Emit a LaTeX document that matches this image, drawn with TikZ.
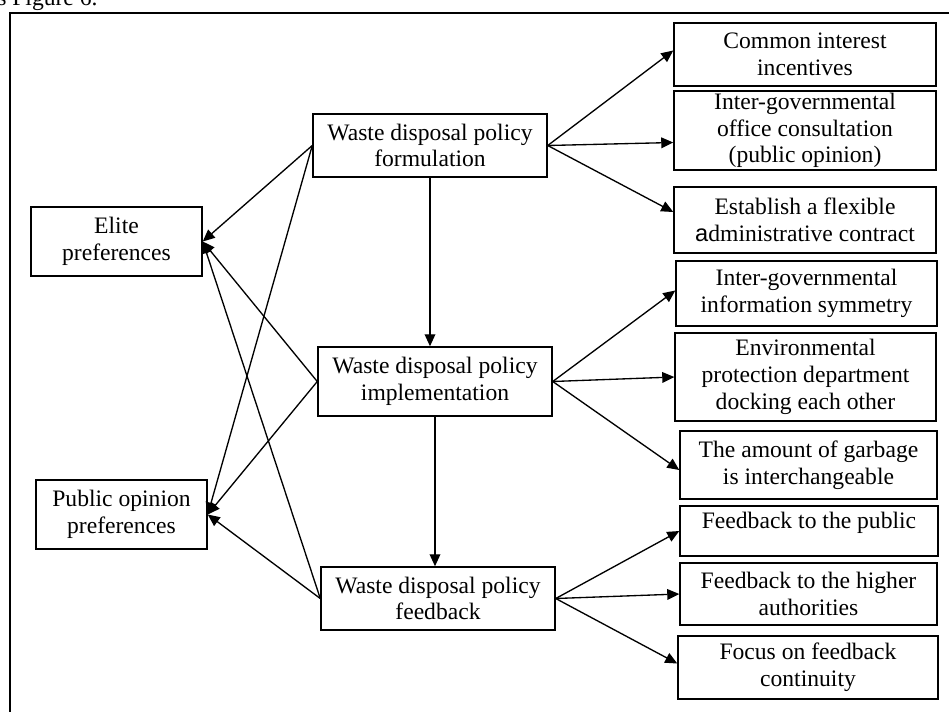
\documentclass[tikz,border=0pt]{standalone}
\usepackage{fontspec}
\setmainfont{Liberation Serif}
\setsansfont{Liberation Sans}
\usetikzlibrary{arrows.meta,calc}
\newcommand{\px}{0.75pt}
\newcommand{\boxfont}{\fontsize{17.7}{20}\selectfont}
\begin{document}
\begin{tikzpicture}[x=0.75pt,y=-0.75pt,
  box/.style={draw, line width=1.1pt, align=center, inner sep=0pt, font=\boxfont},
  arr/.style={line width=1pt, -{Triangle[length=9pt,width=8pt]}},
  plain/.style={line width=1pt}]
\useasboundingbox (0,0) rectangle (949,711);
% caption fragment and outer frame
\node[anchor=base west, inner sep=0pt, font=\boxfont] (cap) at (-3,5) {s Figure 6.};
\draw[line width=1.2pt] (10,720) -- (10,13) -- (960,13);

% left column
\node[box, minimum width=171*\px, minimum height=69*\px] (elite) at (116.5,241.5) {Elite\\preferences};
\node[box, minimum width=171*\px, minimum height=69*\px] (pub) at (121.5,514.5) {Public opinion\\preferences};

% middle column
\node[box, minimum width=234*\px, minimum height=63*\px] (form) at (430,145.5) {Waste disposal policy\\formulation};
\node[box, minimum width=234*\px, minimum height=69*\px] (impl) at (435,381.5) {Waste disposal policy\\implementation};
\node[box, minimum width=234*\px, minimum height=63*\px] (fb) at (438,598.5) {Waste disposal policy\\feedback};

% right column
\node[box, minimum width=262*\px, minimum height=63*\px] (r1) at (805,54.5) {Common interest\\incentives};
\node[box, minimum width=262*\px, minimum height=79*\px] (r2) at (805,130.5) {Inter-governmental\\office consultation\\(public opinion)};
\node[box, minimum width=262*\px, minimum height=66*\px] (r3) at (805,220) {Establish a flexible\\{\sffamily a}dministrative contract};
\node[box, minimum width=261*\px, minimum height=65*\px] (r4) at (806.5,293.5) {Inter-governmental\\information symmetry};
\node[box, minimum width=261*\px, minimum height=88*\px] (r5) at (805.5,377) {Environmental\\protection department\\docking each other};
\node[box, minimum width=257*\px, minimum height=68*\px] (r6) at (808.5,465) {The amount of garbage\\is interchangeable};
\node[box, minimum width=258*\px, minimum height=50*\px] (r7) at (809,531) {Feedback to the public\\[-4pt]\mbox{}};
\node[box, minimum width=257*\px, minimum height=62*\px] (r8) at (808.5,594) {Feedback to the higher\\authorities};
\node[box, minimum width=260*\px, minimum height=63*\px] (r9) at (808,667.5) {Focus on feedback\\continuity};

% vertical flow
\draw[arr] (form.south) -- (form.south |- impl.north);
\draw[arr] (impl.south) -- (impl.south |- fb.north);

% links to the preference boxes
\foreach \s in {form,impl,fb}{
  \draw[arr] (\s.west) -- (elite.east);
  \draw[arr] (\s.west) -- (pub.east);
}

% measures on the right
\draw[arr] (form.east) -- ($(r1.west)+(0,-4)$);
\draw[arr] (form.east) -- ($(r2.west)+(0,12)$);
\draw[arr] (form.east) -- ($(r3.west)+(0,-8)$);
\draw[arr] (impl.east) -- ($(r4.west)+(0,-3)$);
\draw[arr] (impl.east) -- (r5.west);
\draw[arr] (impl.east) -- ($(r6.west)+(0,5)$);
\draw[arr] (fb.east) -- (r7.west);
\draw[arr] (fb.east) -- (r8.west);
\draw[arr] (fb.east) -- ($(r9.west)+(0,-4)$);
\end{tikzpicture}
\end{document}
